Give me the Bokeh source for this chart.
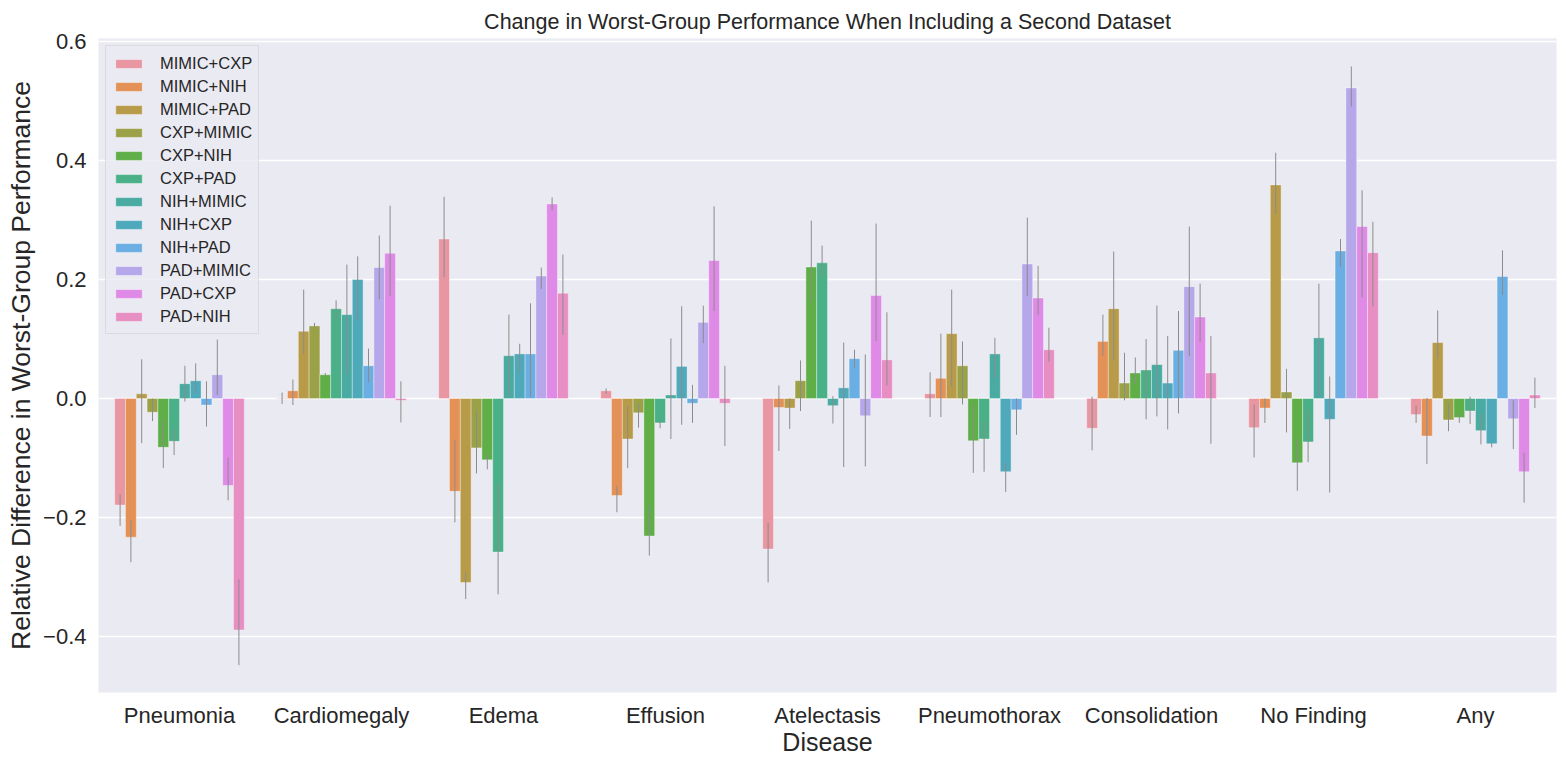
from bokeh.plotting import figure
from bokeh.models import Range1d, FixedTicker, Legend, LegendItem
from bokeh.embed import file_html
from bokeh.resources import INLINE

diseases = ["Pneumonia", "Cardiomegaly", "Edema", "Effusion", "Atelectasis",
            "Pneumothorax", "Consolidation", "No Finding", "Any"]
combos = ["MIMIC+CXP", "MIMIC+NIH", "MIMIC+PAD", "CXP+MIMIC", "CXP+NIH", "CXP+PAD",
          "NIH+MIMIC", "NIH+CXP", "NIH+PAD", "PAD+MIMIC", "PAD+CXP", "PAD+NIH"]

# mean relative difference per combo (one value per disease, in disease order)
mimic_cxp = [-0.179, 0.001, 0.268, 0.013, -0.253, 0.008, -0.050, -0.049, -0.027]
mimic_nih = [-0.233, 0.013, -0.156, -0.163, -0.015, 0.034, 0.096, -0.016, -0.063]
mimic_pad = [0.008, 0.113, -0.309, -0.068, -0.016, 0.109, 0.151, 0.359, 0.094]
cxp_mimic = [-0.023, 0.122, -0.083, -0.024, 0.030, 0.055, 0.026, 0.011, -0.036]
cxp_nih = [-0.082, 0.040, -0.103, -0.231, 0.221, -0.071, 0.043, -0.108, -0.032]
cxp_pad = [-0.072, 0.151, -0.258, -0.041, 0.228, -0.068, 0.048, -0.073, -0.021]
nih_mimic = [0.025, 0.141, 0.072, 0.006, -0.012, 0.075, 0.057, 0.102, -0.054]
nih_cxp = [0.030, 0.200, 0.075, 0.054, 0.018, -0.123, 0.026, -0.035, -0.076]
nih_pad = [-0.011, 0.055, 0.075, -0.008, 0.067, -0.019, 0.081, 0.248, 0.205]
pad_mimic = [0.040, 0.220, 0.206, 0.128, -0.029, 0.226, 0.188, 0.522, -0.034]
pad_cxp = [-0.146, 0.244, 0.327, 0.232, 0.173, 0.169, 0.137, 0.289, -0.123]
pad_nih = [-0.389, -0.003, 0.177, -0.008, 0.065, 0.082, 0.043, 0.245, 0.006]

# confidence interval lower bounds
lo_mimic_cxp = [-0.214, -0.009, 0.204, 0.008, -0.309, -0.031, -0.087, -0.099, -0.041]
lo_mimic_nih = [-0.275, -0.011, -0.208, -0.191, -0.088, -0.031, 0.072, -0.041, -0.110]
lo_mimic_pad = [-0.075, 0.075, -0.337, -0.117, -0.051, 0.020, 0.064, 0.310, 0.067]
lo_cxp_mimic = [-0.038, 0.117, -0.126, -0.049, -0.021, -0.010, -0.003, -0.057, -0.055]
lo_cxp_nih = [-0.117, 0.038, -0.119, -0.264, 0.162, -0.125, 0.024, -0.155, -0.041]
lo_cxp_pad = [-0.095, 0.133, -0.329, -0.050, 0.207, -0.123, -0.035, -0.107, -0.043]
lo_nih_mimic = [-0.005, 0.041, 0.003, -0.068, -0.042, 0.034, -0.030, 0.005, -0.077]
lo_nih_cxp = [0.008, 0.131, 0.044, -0.044, -0.115, -0.157, -0.052, -0.158, -0.082]
lo_nih_pad = [-0.047, 0.027, 0.002, -0.041, 0.051, -0.061, -0.025, 0.221, 0.174]
lo_pad_mimic = [0.006, 0.167, 0.184, 0.093, -0.114, 0.172, 0.071, 0.491, -0.085]
lo_pad_cxp = [-0.171, 0.172, 0.316, 0.147, 0.097, 0.141, 0.095, 0.170, -0.175]
lo_pad_nih = [-0.448, -0.040, 0.107, -0.080, 0.022, 0.062, -0.076, 0.155, -0.016]

# confidence interval upper bounds
hi_mimic_cxp = [-0.161, 0.010, 0.339, 0.017, -0.209, 0.044, 0.003, -0.010, -0.012]
hi_mimic_nih = [-0.205, 0.032, -0.069, -0.147, 0.022, 0.109, 0.141, 0.000, 0.001]
hi_mimic_pad = [0.066, 0.183, -0.291, -0.012, 0.000, 0.183, 0.247, 0.413, 0.148]
hi_cxp_mimic = [0.000, 0.127, -0.022, -0.009, 0.064, 0.096, 0.077, 0.050, -0.008]
hi_cxp_nih = [-0.036, 0.043, -0.094, -0.179, 0.299, -0.010, 0.069, -0.068, -0.026]
hi_cxp_pad = [-0.052, 0.165, -0.142, -0.037, 0.257, -0.040, 0.100, -0.020, 0.003]
hi_nih_mimic = [0.055, 0.225, 0.141, 0.101, 0.004, 0.102, 0.156, 0.193, -0.026]
hi_nih_cxp = [0.059, 0.239, 0.092, 0.155, 0.094, -0.108, 0.105, 0.037, -0.073]
hi_nih_pad = [0.029, 0.084, 0.160, 0.023, 0.082, 0.000, 0.147, 0.268, 0.249]
hi_pad_mimic = [0.099, 0.274, 0.220, 0.156, 0.074, 0.304, 0.289, 0.558, -0.003]
hi_pad_cxp = [-0.099, 0.324, 0.338, 0.323, 0.294, 0.223, 0.193, 0.350, -0.091]
hi_pad_nih = [-0.304, 0.029, 0.242, 0.055, 0.145, 0.119, 0.105, 0.297, 0.035]

y_ticks = [-0.4, -0.2, 0.0, 0.2, 0.4, 0.6]
y_tick_labels = ["\u22120.4", "\u22120.2", "0.0", "0.2", "0.4", "0.6"]

values = [mimic_cxp, mimic_nih, mimic_pad, cxp_mimic, cxp_nih, cxp_pad,
          nih_mimic, nih_cxp, nih_pad, pad_mimic, pad_cxp, pad_nih]
lows = [lo_mimic_cxp, lo_mimic_nih, lo_mimic_pad, lo_cxp_mimic, lo_cxp_nih, lo_cxp_pad,
        lo_nih_mimic, lo_nih_cxp, lo_nih_pad, lo_pad_mimic, lo_pad_cxp, lo_pad_nih]
highs = [hi_mimic_cxp, hi_mimic_nih, hi_mimic_pad, hi_cxp_mimic, hi_cxp_nih, hi_cxp_pad,
         hi_nih_mimic, hi_nih_cxp, hi_nih_pad, hi_pad_mimic, hi_pad_cxp, hi_pad_nih]

colors = ["#e996a3", "#e39156", "#b89b48", "#9aa146", "#5fae48", "#49b087",
          "#4aaba2", "#4eaabb", "#6aaee3", "#b6a6ea", "#e08ae8", "#e78ec3"]

FONT = "Liberation Sans"
TXT = "#262626"

p = figure(width=1566, height=766, output_backend="svg", toolbar_location=None,
           x_range=Range1d(-0.5, 8.5), y_range=Range1d(-0.494, 0.605),
           min_border_left=98, min_border_right=10, min_border_top=38, min_border_bottom=74,
           background_fill_color="#eaeaf2", border_fill_color="white")
p.outline_line_color = None

p.title.text = "Change in Worst-Group Performance When Including a Second Dataset"
p.title.align = "center"
p.title.text_font = FONT
p.title.text_font_size = "21.5px"
p.title.text_font_style = "normal"
p.title.text_color = TXT
p.title.standoff = 9

p.xgrid.visible = False
p.ygrid.grid_line_color = "white"
p.ygrid.grid_line_width = 1.5
p.ygrid.ticker = FixedTicker(ticks=y_ticks)

for ax in (p.xaxis[0], p.yaxis[0]):
    ax.axis_line_color = None
    ax.major_tick_line_color = None
    ax.minor_tick_line_color = None
    ax.major_tick_out = 0
    ax.major_tick_in = 0
    ax.minor_tick_out = 0
    ax.minor_tick_in = 0
    ax.major_label_text_font = FONT
    ax.major_label_text_font_size = "22px"
    ax.major_label_text_color = TXT
    ax.axis_label_text_font = FONT
    ax.axis_label_text_font_style = "normal"
    ax.axis_label_text_color = TXT

p.xaxis.ticker = FixedTicker(ticks=list(range(len(diseases))))
p.xaxis.major_label_overrides = {i: d for i, d in enumerate(diseases)}
p.xaxis.axis_label = "Disease"
p.xaxis.axis_label_text_font_size = "25px"
p.xaxis.major_label_standoff = 10
p.xaxis.axis_label_standoff = -3

p.yaxis.ticker = FixedTicker(ticks=y_ticks)
p.yaxis.major_label_overrides = {t: l for t, l in zip(y_ticks, y_tick_labels)}
p.yaxis.axis_label = "Relative Difference in Worst-Group Performance"
p.yaxis.axis_label_text_font_size = "26.5px"
p.yaxis.major_label_standoff = 12
p.yaxis.axis_label_standoff = 4

n = len(combos)
bw = 0.8 / n
items = []
for k, name in enumerate(combos):
    off = -0.4 + (k + 0.5) * bw
    xs = [i + off for i in range(len(diseases))]
    r = p.vbar(x=xs, top=values[k], bottom=0, width=bw,
               fill_color=colors[k], line_color="white", line_alpha=0.35, line_width=1)
    items.append(LegendItem(label=name, renderers=[r]))
for k, name in enumerate(combos):
    off = -0.4 + (k + 0.5) * bw
    xs = [i + off for i in range(len(diseases))]
    p.segment(x0=xs, y0=lows[k], x1=xs, y1=highs[k], line_color="#8c8c8c", line_width=1)

legend = Legend(items=items, location="top_left", margin=7, padding=6,
                spacing=1, label_height=22, glyph_height=11, glyph_width=33,
                label_standoff=15, border_line_color="#cccccc", border_line_width=1,
                background_fill_color="#eaeaf2", background_fill_alpha=0.8)
legend.label_text_font = FONT
legend.label_text_font_size = "16.5px"
legend.label_text_color = TXT
p.add_layout(legend, "center")

open("out.html", "w").write(file_html(p, INLINE))
